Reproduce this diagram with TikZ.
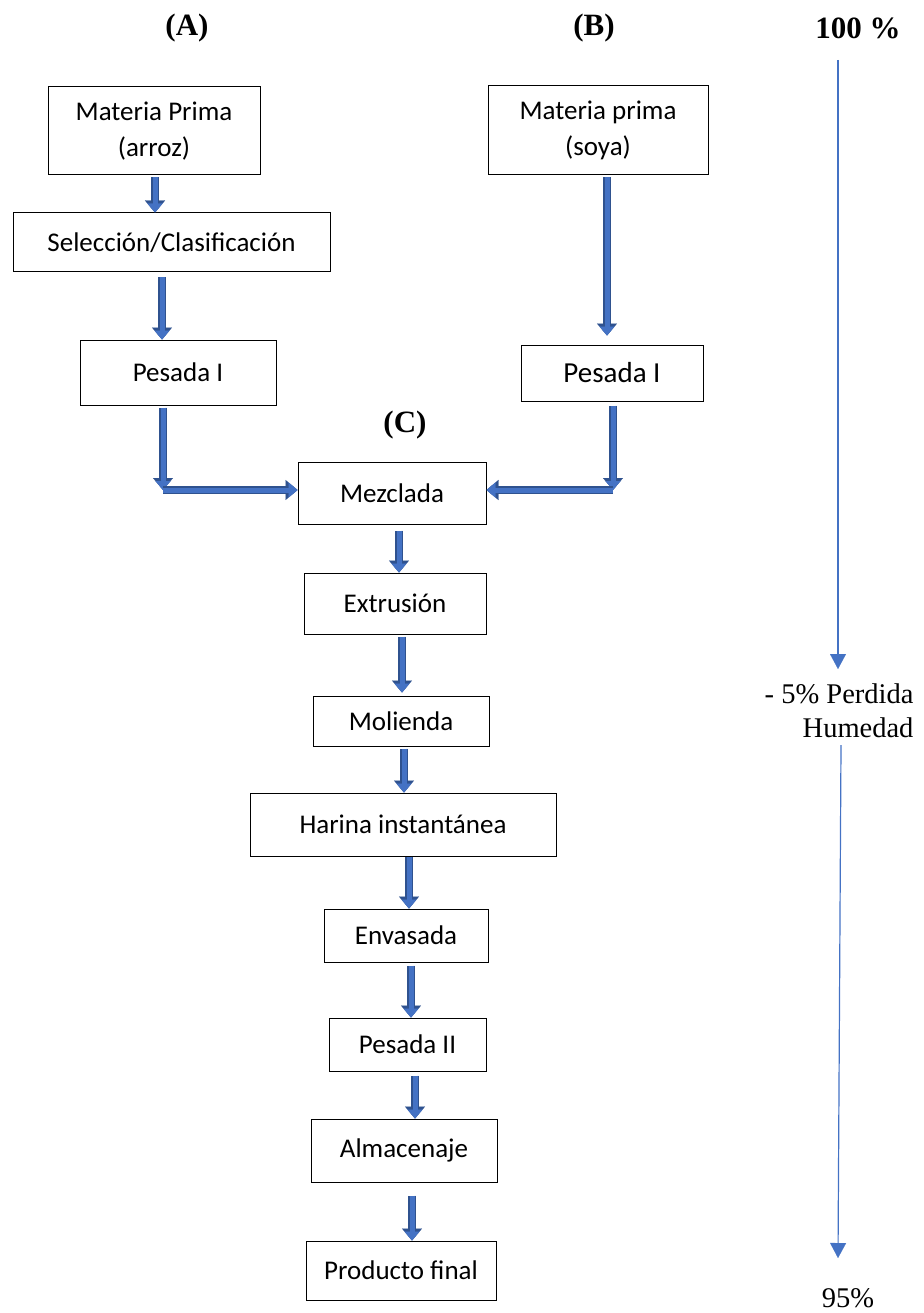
\documentclass[tikz,border=0pt]{standalone}
\usepackage{fontspec}
\setmainfont{Carlito}
\newfontfamily\serifrm{Liberation Serif}
\usetikzlibrary{arrows.meta}

\definecolor{flowblue}{HTML}{4472C4}
\definecolor{flowedge}{HTML}{2F528F}

\tikzset{
  stepbox/.style={draw, line width=1pt, inner sep=0pt, align=center,
    font=\fontsize{27}{36}\selectfont},
  heading/.style={font=\serifrm\bfseries\fontsize{31}{36}\selectfont},
  note/.style={font=\serifrm\fontsize{28.5}{34}\selectfont},
  bigarrow/.style={draw=flowblue, line width=5pt,
    -{Triangle[width=15pt,length=9pt,line width=0.1pt]},
    preaction={draw=flowedge, line width=8pt,
      -{Triangle[width=20pt,length=12pt,line width=0.1pt]}}},
  lossarrow/.style={draw=flowblue, line width=1.2pt,
    -{Triangle[width=16pt,length=15pt,line width=0.1pt]}}
}

\begin{document}
\begin{tikzpicture}[x=1pt,y=-1pt]
  \useasboundingbox (0,0) rectangle (923,1313);

  % column headings
  \node[heading] (hA) at (187,28) {(A)};
  \node[heading] (hB) at (594,28) {(B)};
  \node[heading] (hC) at (405,425) {(C)};
  \node[heading] (pct100) at (858,28) {100 \%};

  % rice branch
  \node[stepbox, minimum width=212pt, minimum height=88pt] (matA) at (154,131) {Materia Prima\\(arroz)};
  \node[stepbox, minimum width=317pt, minimum height=59pt] (sel) at (171.5,242.5) {Selección/Clasificación};
  \node[stepbox, minimum width=196pt, minimum height=65pt] (pesA) at (178,372.5) {Pesada I};

  % soy branch
  \node[stepbox, minimum width=220pt, minimum height=89pt] (matB) at (598,130.5) {Materia prima\\(soya)};
  \node[stepbox, minimum width=182pt, minimum height=56pt, font=\fontsize{29}{34}\selectfont] (pesB) at (612,373) {Pesada I};

  % common line
  \node[stepbox, minimum width=188pt, minimum height=62pt] (mez) at (392,493) {Mezclada};
  \node[stepbox, minimum width=182pt, minimum height=61pt] (ext) at (395,603.5) {Extrusión};
  \node[stepbox, minimum width=176pt, minimum height=50pt] (mol) at (401,721) {Molienda};
  \node[stepbox, minimum width=306pt, minimum height=63pt] (har) at (403,824.5) {Harina instantánea};
  \node[stepbox, minimum width=164pt, minimum height=53pt] (env) at (406,935.5) {Envasada};
  \node[stepbox, minimum width=157pt, minimum height=53pt] (pesII) at (407.5,1044.5) {Pesada II};
  \node[stepbox, minimum width=186pt, minimum height=63pt] (alm) at (404,1150.5) {Almacenaje};
  \node[stepbox, minimum width=190pt, minimum height=59pt] (prod) at (401,1270.5) {Producto final};

  % moisture balance
  \node[note, align=right, anchor=east] (loss) at (917,711) {- 5\% Perdida\\Humedad};
  \node[note] (pct95) at (848,1298) {95\%};
  \coordinate (lossTop) at (838,60);
  \coordinate (lossMid) at (838,669);
  \coordinate (lossLow) at (841,745);
  \coordinate (lossEnd) at (838,1258);
  \draw[lossarrow] (lossTop) -- (lossMid);
  \draw[lossarrow] (lossLow) -- (lossEnd);

  % flow arrows
  \coordinate (cornA) at (163,490);
  \coordinate (cornB) at (613,490);
  \draw[bigarrow, shorten <=2pt] ([xshift=1pt]matA.south) -- ([xshift=1pt]matA.south |- sel.north);
  \draw[bigarrow, shorten <=5pt] ([xshift=-9.5pt]sel.south) -- ([xshift=-9.5pt]sel.south |- pesA.north);
  \draw[bigarrow, shorten <=2pt] (pesA.south -| cornA) -- (cornA);
  \draw[bigarrow] (cornA) -- (mez.west |- cornA);
  \draw[bigarrow, shorten <=2pt, shorten >=9pt] ([xshift=9pt]matB.south) -- ([xshift=9pt]matB.south |- pesB.north);
  \draw[bigarrow, shorten <=4pt] (pesB.south -| cornB) -- (cornB);
  \draw[bigarrow] (cornB) -- (mez.east |- cornB);
  \draw[bigarrow, shorten <=6pt] ([xshift=7pt]mez.south) -- ([xshift=7pt]mez.south |- ext.north);
  \draw[bigarrow, shorten <=2pt, shorten >=3pt] ([xshift=7pt]ext.south) -- ([xshift=7pt]ext.south |- mol.north);
  \draw[bigarrow, shorten <=2pt] ([xshift=3pt]mol.south) -- ([xshift=3pt]mol.south |- har.north);
  \draw[bigarrow] ([xshift=6pt]har.south) -- ([xshift=6pt]har.south |- env.north);
  \draw[bigarrow, shorten <=3pt] ([xshift=5pt]env.south) -- ([xshift=5pt]env.south |- pesII.north);
  \draw[bigarrow, shorten <=4pt] ([xshift=7.5pt]pesII.south) -- ([xshift=7.5pt]pesII.south |- alm.north);
  \draw[bigarrow, shorten <=13pt] ([xshift=8pt]alm.south) -- ([xshift=8pt]alm.south |- prod.north);
\end{tikzpicture}
\end{document}
